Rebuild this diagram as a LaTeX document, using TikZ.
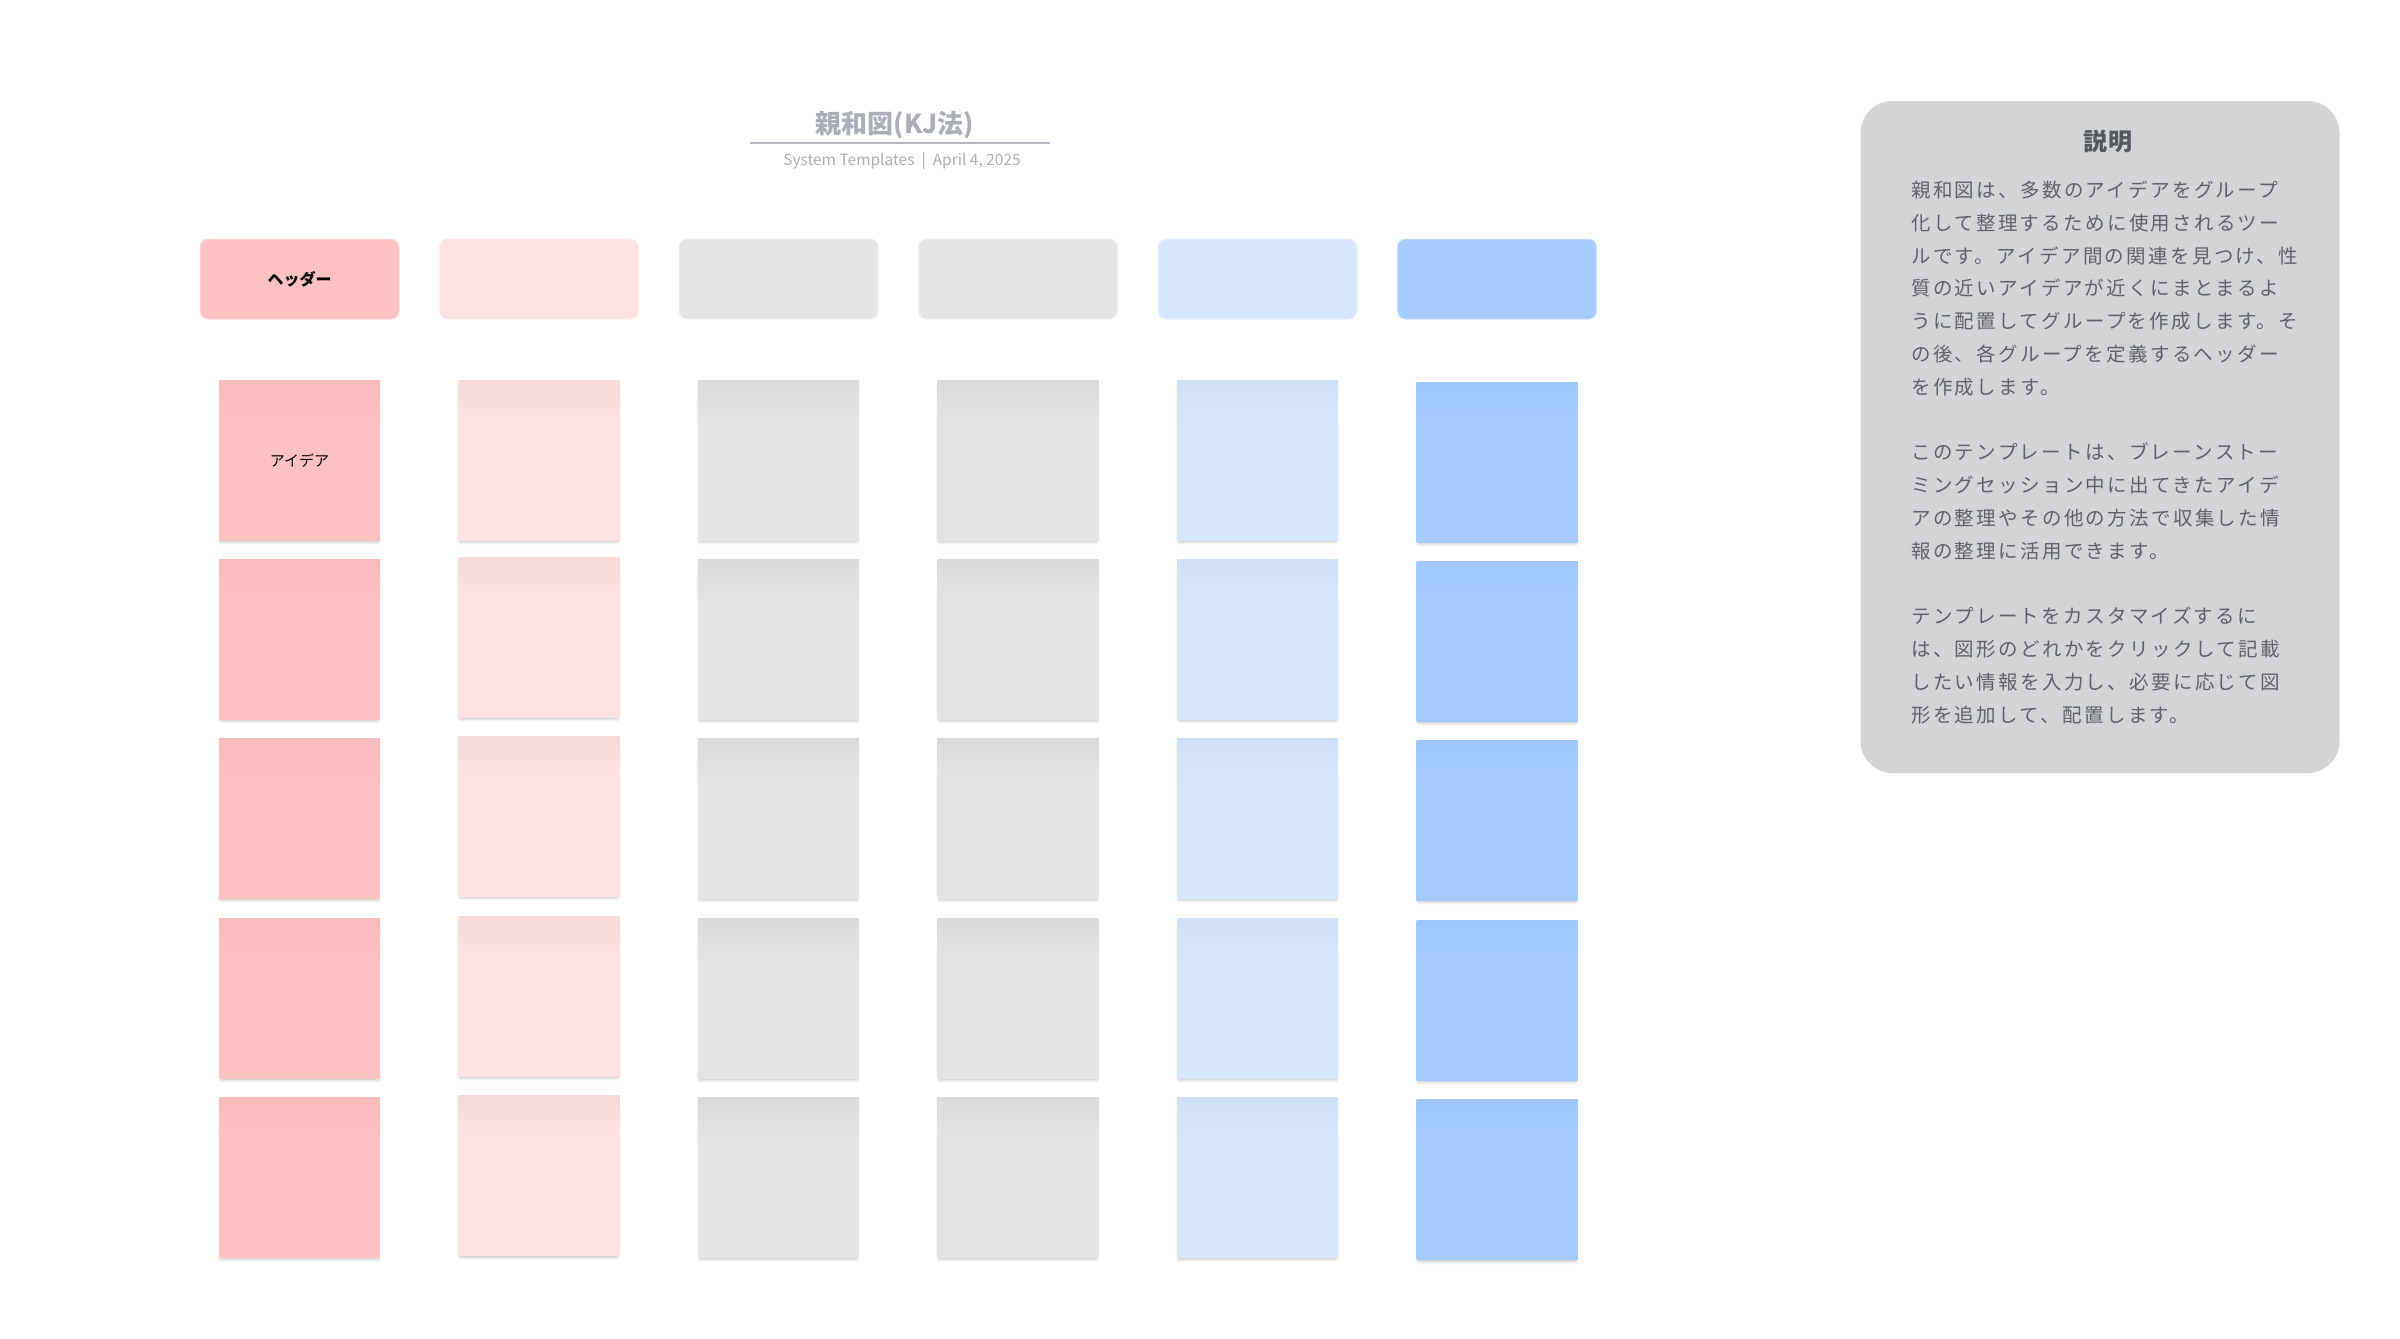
\documentclass[tikz,border=0pt]{standalone}
\usepackage{fontspec}
\setmainfont{Noto Sans CJK JP}
\newfontfamily\cjksp[LetterSpace=12]{Noto Sans CJK JP}
\newfontfamily\cjkti[LetterSpace=8]{Noto Sans CJK JP}
\usetikzlibrary{shadows.blur}

\definecolor{c1}{HTML}{FCC1C1}
\definecolor{c2}{HTML}{FEE1E1}
\definecolor{c3}{HTML}{E4E4E4}
\definecolor{c4}{HTML}{E4E4E4}
\definecolor{c5}{HTML}{D7E7FD}
\definecolor{c6}{HTML}{A5CBFD}
\definecolor{t1}{HTML}{F7BBBB}
\definecolor{t2}{HTML}{F8D9D9}
\definecolor{t3}{HTML}{DADADA}
\definecolor{t4}{HTML}{DADADA}
\definecolor{t5}{HTML}{CFE0F7}
\definecolor{t6}{HTML}{9EC6FA}
\definecolor{paneltxt}{HTML}{5E6267}
\definecolor{paneltitle}{HTML}{55595E}
\definecolor{panelbg}{HTML}{D3D4D6}
\definecolor{titlegray}{HTML}{A9AEB7}
\definecolor{rulegray}{HTML}{B2B7BF}

\pgfdeclareverticalshading{sh1}{100bp}{color(0bp)=(c1);color(25bp)=(c1);color(62bp)=(c1);color(75bp)=(t1);color(100bp)=(t1)}
\pgfdeclareverticalshading{sh2}{100bp}{color(0bp)=(c2);color(25bp)=(c2);color(62bp)=(c2);color(75bp)=(t2);color(100bp)=(t2)}
\pgfdeclareverticalshading{sh3}{100bp}{color(0bp)=(c3);color(25bp)=(c3);color(62bp)=(c3);color(75bp)=(t3);color(100bp)=(t3)}
\pgfdeclareverticalshading{sh4}{100bp}{color(0bp)=(c4);color(25bp)=(c4);color(62bp)=(c4);color(75bp)=(t4);color(100bp)=(t4)}
\pgfdeclareverticalshading{sh5}{100bp}{color(0bp)=(c5);color(25bp)=(c5);color(62bp)=(c5);color(75bp)=(t5);color(100bp)=(t5)}
\pgfdeclareverticalshading{sh6}{100bp}{color(0bp)=(c6);color(25bp)=(c6);color(62bp)=(c6);color(75bp)=(t6);color(100bp)=(t6)}

\tikzset{
  sticky/.style={minimum width=161pt, minimum height=160pt, inner sep=0pt, outer sep=0pt,
    blur shadow={shadow xshift=0pt, shadow yshift=-3.5pt, shadow scale=0.975, shadow blur radius=3.5pt, shadow opacity=30}},
  hdr/.style={minimum width=199pt, minimum height=80pt, inner sep=0pt, rounded corners=8pt},
  bodyline/.style={anchor=base west, inner sep=0pt, text=paneltxt, font=\cjksp\fontsize{19.5}{30}\selectfont},
}

\begin{document}
\begin{tikzpicture}[x=1pt,y=-1pt]
\path[use as bounding box] (0,0) rectangle (2400,1338);

% title
\node[inner sep=0pt, text=titlegray, font=\fontsize{26}{26}\selectfont\bfseries] (title) at (895,125) {親和図(KJ法)};
\coordinate (rl) at (750,142.5);
\coordinate (rr) at (1050,142.5);
\draw[rulegray, line width=2pt] (rl) -- (rr);
\node[inner sep=0pt, text=titlegray, font=\fontsize{15.5}{15.5}\selectfont] (subtitle) at (902,161.5) {System Templates\hspace{7pt}|\hspace{7pt}April 4, 2025};

% headers
\foreach \i in {1,...,6}{
  \pgfmathsetmacro\cx{299.5+239.5*(\i-1)}
  \node[hdr, fill=c\i, draw=c\i!55!white, line width=1pt] (h\i) at (\cx,279) {};
}
\node[inner sep=0pt, font=\fontsize{16}{16}\selectfont\bfseries] (h1t) at (h1.center) {ヘッダー};

% stickies
\foreach \i in {1,...,6}{
  \foreach \j/\ry in {1/460,2/639,3/818,4/998,5/1177.5}{
    \pgfmathsetmacro\cx{299.5+239.5*(\i-1)}
    \pgfmathsetmacro\cy{\ry+(\i==6)*2-(\i==2)*(\j>1)*2}
    \node[sticky, shade, shading=sh\i] (s\i\j) at (\cx,\cy) {};
  }
}
\node[inner sep=0pt, font=\fontsize{15}{15}\selectfont] (s11t) at ([yshift=-1pt]s11.center) {アイデア};

% description panel
\node[fill=panelbg, rounded corners=32pt, minimum width=479pt, minimum height=672pt, inner sep=0pt] (panel) at (2100,437) {};
\node[inner sep=0pt, text=paneltitle, font=\cjkti\fontsize{24}{24}\selectfont\bfseries] (ptitle) at (2108,141) {説明};

\foreach \k/\t in {
  0/親和図は、多数のアイデアをグループ,
  1/化して整理するために使用されるツー,
  2/ルです。アイデア間の関連を見つけ、性,
  3/質の近いアイデアが近くにまとまるよ,
  4/うに配置してグループを作成します。そ,
  5/の後、各グループを定義するヘッダー,
  6/を作成します。,
  8/このテンプレートは、ブレーンストー,
  9/ミングセッション中に出てきたアイデ,
  10/アの整理やその他の方法で収集した情,
  11/報の整理に活用できます。,
  13/テンプレートをカスタマイズするに,
  14/は、図形のどれかをクリックして記載,
  15/したい情報を入力し、必要に応じて図,
  16/形を追加して、配置します。}{
  \node[bodyline] (line\k) at (1911,197.4+32.8*\k) {\t};
}
\end{tikzpicture}
\end{document}
